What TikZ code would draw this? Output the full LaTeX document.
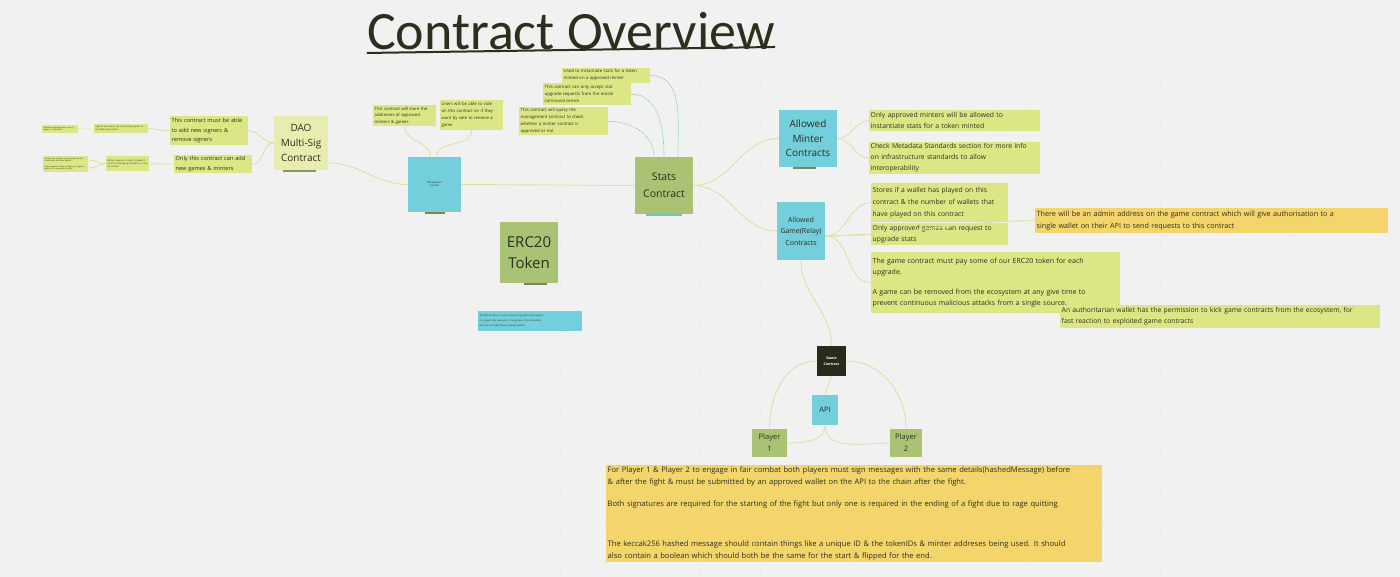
\documentclass[tikz,border=0pt]{standalone}
\usepackage{fontspec}
\setmainfont{Open Sans}
\newfontfamily\titlefont{Carlito}
\definecolor{bgc}{HTML}{F1F1F1}
\definecolor{notec}{HTML}{DDE685}
\definecolor{daoc}{HTML}{E8ECAE}
\definecolor{cyanc}{HTML}{73CFDB}
\definecolor{olivec}{HTML}{AAC274}
\definecolor{orangec}{HTML}{F3D56C}
\definecolor{linec}{HTML}{DCE3A4}
\definecolor{tealc}{HTML}{74C4BE}
\definecolor{darkc}{HTML}{2A2A1A}
\definecolor{textc}{HTML}{2E2E1E}
\definecolor{gridc}{HTML}{E8EADA}
\tikzset{
  note/.style={fill=notec, anchor=north west, inner sep=1.5pt, align=left, text=textc, minimum height=#1},
  note/.default=10,
  bigbox/.style={inner sep=0pt, align=center, text=textc},
  conn/.style={draw=linec, line width=0.9pt},
  tconn/.style={draw=tealc, line width=0.8pt, densely dotted},
  shade/.style={draw=#1, line width=1.6pt},
}
\newcommand{\fs}[2]{\fontsize{#1}{#2}\selectfont}
\begin{document}
\begin{tikzpicture}[x=1pt,y=-1pt]
\useasboundingbox (0,0) rectangle (1400,577);
\fill[bgc] (0,0) rectangle (1400,577);
% faint grid
\foreach \gx in {145,270,365,470,560,700,760,850,1030,1160,1290}
  \draw[gridc, dotted, line width=0.5pt] (\gx,60) -- (\gx,577);
\foreach \gy in {95,180,300,420,520}
  \draw[gridc, dotted, line width=0.5pt] (0,\gy) -- (1400,\gy);

% title
\node[text=textc, inner sep=0pt, font=\titlefont\fs{54}{54}] (title) at (571,31) {Contract Overview};
\draw[textc, line width=2pt] (title.south west) ++(0,3) -- ([yshift=3pt]title.south east);

% left tiny notes
\node[note=6, text width=33, font=\fs{2}{2.5}] (l1) at (42,125) {Requires approval from a set of signers on the DAO};
\node[note=9, text width=51, font=\fs{2.2}{3}] (l2) at (94,124) {Signers are voted in by the existing signers of the Multi-Sig contract};
\node[note=6, text width=42, font=\fs{2}{2.5}] (l3) at (43,156) {Games and minters are proposed by the community and then added};
\node[note=8, text width=42, font=\fs{2}{2.5}] (l4) at (43,164) {Each proposal needs a majority of signers before it is accepted on chain};
\node[note=15, text width=40, font=\fs{2.2}{3.2}] (l5) at (106,156) {Before a game or minter is added it must be checked by the DAO so it can be trusted};

\node[note=29, text width=75, font=\fs{5.6}{9.5}] (nsign) at (170,116) {This contract must be able\\to add new signers \&\\remove signers};
\node[note=18, text width=75, font=\fs{5.6}{9.5}] (nonly) at (174,155) {Only this contract can add\\new games \& minters};

% DAO
\node[bigbox, fill=daoc, minimum width=54, minimum height=54, font=\fs{10}{15}] (dao) at (301,143) {DAO\\Multi-Sig\\Contract};
\draw[shade=olivec!80!black] ([xshift=-18pt,yshift=-1pt]dao.south) -- ([xshift=15pt,yshift=-1pt]dao.south);

% management
\node[note=21, text width=60, font=\fs{4.2}{6.5}] (mn1) at (373,105) {This contract will store the\\addresses of approved\\minters \& games};
\node[note=30, text width=60, font=\fs{4.2}{7}] (mn2) at (440,100) {Users will be able to vote\\on this contract on if they\\want by vote to remove a\\game};
\node[bigbox, fill=cyanc, minimum width=53, minimum height=55, font=\fs{2.4}{3}] (mgmt) at (434.5,184.5) {Management\\Contract};
\draw[shade=olivec!70!black] ([xshift=-10pt,yshift=-1pt]mgmt.south) -- ([xshift=10pt,yshift=-1pt]mgmt.south);

% stats notes
\node[note=14, text width=85, font=\fs{4.3}{7}] (sn1) at (562,68) {Used to instantiate stats for a token\\minted on a approved minter};
\node[note=22, text width=85, font=\fs{4.3}{7}] (sn2) at (543,83) {This contract can only accept stat\\upgrade requests from the oracle\\command centre};
\node[note=28, text width=86, font=\fs{4.3}{7}] (sn3) at (519,107) {This contract will query the\\management contract to check\\whether a minter contract is\\approved or not};

% stats
\node[bigbox, fill=olivec, minimum width=58, minimum height=57, font=\fs{10.5}{17}] (stats) at (664,185.5) {Stats\\Contract};
\draw[shade=tealc] ([xshift=-18pt,yshift=-1pt]stats.south) -- ([xshift=18pt,yshift=-1pt]stats.south);

% ERC20
\node[bigbox, fill=olivec, minimum width=58, minimum height=61, font=\fs{15}{21}] (erc) at (529,252.5) {ERC20\\Token};
\draw[shade=olivec!70!black] ([xshift=-5pt,yshift=-1pt]erc.south) -- ([xshift=18pt,yshift=-1pt]erc.south);
\node[note=20, fill=cyanc, text width=101, font=\fs{2.3}{5}] (ercn) at (478,311) {The ERC20 token is used to pay for upgrades and rewards\\for players that take part in the games of the ecosystem\\and can be traded freely between wallets};

% minter
\node[bigbox, fill=cyanc, minimum width=58, minimum height=57, font=\fs{10}{14.5}] (minter) at (808,138.5) {Allowed\\Minter\\Contracts};
\draw[shade=olivec!70!black] ([xshift=-15pt,yshift=-1pt]minter.south) -- ([xshift=8pt,yshift=-1pt]minter.south);
\node[note=21, text width=168, font=\fs{6.8}{11}] (mm1) at (869,110) {Only approved minters will be allowed to\\instantiate stats for a token minted};
\node[note=32, text width=168, font=\fs{6.8}{11}] (mm2) at (869,142) {Check Metadata Standards section for more info\\on infrastructure standards to allow\\interoperability};

% game relay
\node[bigbox, fill=cyanc, minimum width=48, minimum height=58, font=\fs{7}{11.5}] (game) at (801,231) {Allowed\\Game(Relay)\\Contracts};
\node[note=39, text width=134, font=\fs{6.8}{12}] (gs1) at (871,183) {Stores if a wallet has played on this\\contract \& the number of wallets that\\have played on this contract};
\node[note=22, text width=134, font=\fs{6.8}{11}] (gs2) at (871,223) {Only approved games can request to\\upgrade stats};
\node[note=61, text width=246, font=\fs{7}{11}] (gs3) at (871,252) {The game contract must pay some of our ERC20 token for each\\upgrade.\\[9pt]A game can be removed from the ecosystem at any give time to\\prevent continuous malicious attacks from a single source.};
\node[note=25, fill=orangec, text width=350, font=\fs{7.2}{12}] (orange) at (1035,208) {There will be an admin address on the game contract which will give authorisation to a\\single wallet on their API to send requests to this contract};
\node[note=23, text width=317, font=\fs{6.8}{11}] (auth) at (1060,305) {An authoritarian wallet has the permission to kick game contracts from the ecosystem, for\\fast reaction to exploited game contracts};

% game contract
\node[bigbox, fill=darkc, text=white, minimum width=29, minimum height=30, font=\bfseries\fs{3.6}{5.5}] (gc) at (831.5,361) {Game\\Contract};
\node[bigbox, fill=cyanc, minimum width=26, minimum height=30, font=\fs{7.5}{9}] (api) at (825,410) {API};
\node[bigbox, fill=olivec, minimum width=35, minimum height=28, font=\fs{7.5}{12}] (p1) at (769.5,443) {Player\\1};
\node[bigbox, fill=olivec, minimum width=32, minimum height=28, font=\fs{7.5}{12}] (p2) at (906,443) {Player\\2};

\node[note=96, fill=orangec, text width=493, font=\fs{7.6}{11.7}] (bottom) at (606,465) {For Player 1 \& Player 2 to engage in fair combat both players must sign messages with the same details(hashedMessage) before\\\& after the fight \& must be submitted by an approved wallet on the API to the chain after the fight.\\[11pt]Both signatures are required for the starting of the fight but only one is required in the ending of a fight due to rage quitting\\[28pt]The keccak256 hashed message should contain things like a unique ID \& the tokenIDs \& minter addreses being used. It should\\also contain a boolean which should both be the same for the start \& flipped for the end.};

% connectors
\draw[conn, densely dotted] (l1.east) -- (l2.west);
\draw[conn] (l2.east) to[out=0,in=180] (nsign.west);
\draw[conn] (l3.east) to[out=0,in=180] (l5.west);
\draw[conn] (l4.east) to[out=0,in=180] (l5.west);
\draw[conn] (l5.east) to[out=0,in=180] (nonly.west);
\draw[conn] (nsign.east) to[out=0,in=180] (dao.west);
\draw[conn] (nonly.east) to[out=0,in=180] (dao.west);
\draw[conn] ([yshift=-20pt]dao.east) to[out=0,in=180] (mgmt.west);
\draw[conn] (mn1.south) to[out=-90,in=90] ([xshift=-4pt]mgmt.north);
\draw[conn] (mn2.south) to[out=-90,in=90] ([xshift=2pt]mgmt.north);
\draw[conn] (mgmt.east) -- (stats.west);
\draw[tconn] (sn1.east) to[out=0,in=90] ([xshift=14pt]stats.north);
\draw[tconn] (sn2.east) to[out=0,in=90] ([xshift=0pt]stats.north);
\draw[tconn] (sn3.east) to[out=0,in=90] ([xshift=-10pt]stats.north);
\draw[conn] (stats.east) to[out=0,in=180] (minter.west);
\draw[conn] (stats.east) to[out=0,in=180] (game.west);
\draw[conn] (minter.east) to[out=0,in=180] (mm1.west);
\draw[conn] (minter.east) to[out=0,in=180] (mm2.west);
\draw[conn] ([yshift=-5pt]game.east) to[out=0,in=180] (gs1.west);
\draw[conn] ([yshift=-5pt]game.east) to[out=0,in=180] (gs2.west);
\draw[conn] ([yshift=-5pt]game.east) to[out=0,in=180] (gs3.west);
\draw[conn] ([yshift=-5pt]game.east) to[out=0,in=180] (orange.west);
\draw[conn] (game.south) to[out=-90,in=90] (gc.north);
\draw[conn] (gc.south) -- (api.north);
\draw[conn] (gc.west) to[out=180,in=90] (p1.north);
\draw[conn] (gc.east) to[out=0,in=90] (p2.north);
\draw[conn] (api.south) to[out=-90,in=0] (p1.east);
\draw[conn] (api.south) to[out=-90,in=180] (p2.west);
\end{tikzpicture}
\end{document}
